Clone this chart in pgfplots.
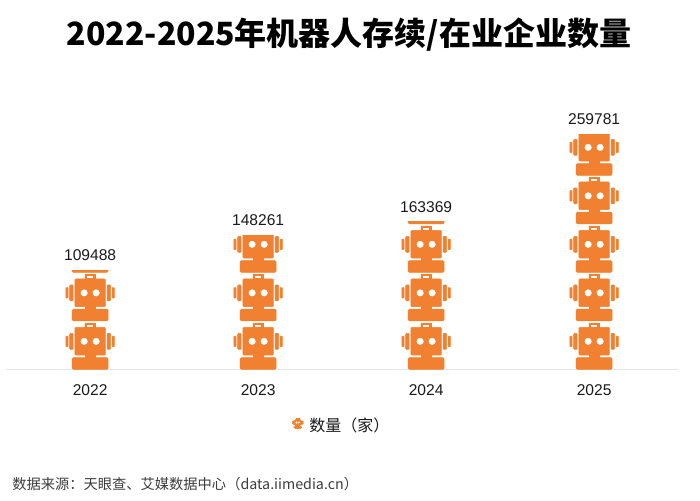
\documentclass[border=0pt]{standalone}
\usepackage{fontspec}
\usepackage{pgfplots}
\usepackage{pgfplotstable}
\pgfplotsset{compat=1.18}
\setmainfont{Liberation Sans}
\newfontfamily\cjk{Noto Sans CJK SC}
\definecolor{robot}{HTML}{F18030}
\definecolor{txt}{HTML}{1A1A1A}

% 1 reference pixel = 0.75pt
\newdimen\barh
\newcommand{\robot}{%
  \fill[robot,rounded corners=1pt] (-18,0) rectangle (18,11.8);
  \fill[robot] (-5,11) rectangle (5,15);
  \fill[robot,even odd rule,rounded corners=0.8pt] (-15.3,14.3) rectangle (15.3,42);
  \fill[white] (-6,28.1) circle[radius=3.2] (6,28.1) circle[radius=3.2];
  \fill[robot,even odd rule] (-5.3,41.5) rectangle (5.3,46.6) (-3.4,42.6) rectangle (3.2,45.2);
  \fill[robot,rounded corners=0.6pt] (17,20.1) rectangle (20.4,36.1);
  \fill[robot,rounded corners=0.6pt] (-17,20.1) rectangle (-20.4,36.1);
  \fill[robot,rounded corners=0.5pt] (22,22.8) rectangle (24.3,33.4);
  \fill[robot,rounded corners=0.5pt] (-22,22.8) rectangle (-24.3,33.4);
}
% the mark stands at the top of the bar, and reaches down to y=0
\pgfdeclareplotmark{robots}{%
  \barh=\dimexpr 1sp*\pgfplotspointmeta*4448/100\relax
  \begin{pgfscope}
    \pgfpathrectangle{\pgfpoint{-25pt}{-\barh}}{\pgfpoint{50pt}{\barh}}%
    \pgfusepath{clip}%
    \pgftransformyshift{-\barh}%
    \begin{scope}[x=0.75pt,y=0.75pt]
      \robot
      \pgftransformyshift{36.375pt}\robot
      \pgftransformyshift{36.375pt}\robot
      \pgftransformyshift{36.375pt}\robot
      \pgftransformyshift{36.375pt}\robot
      \pgftransformyshift{36.375pt}\robot
    \end{scope}
  \end{pgfscope}
}

\pgfplotstableread{
x v
0 109488
1 148261
2 163369
3 259781
}\robotdata

\begin{document}
\begin{tikzpicture}
\useasboundingbox (0,0) rectangle (525pt,375pt);
\node[font=\cjk\bfseries\fontsize{24pt}{28pt}\selectfont,text=black] at (261.8pt,348.9pt) {2022-2025年机器人存续/在业企业数量};
\begin{axis}[
    at={(4.6pt,97.9pt)},
    anchor=south west,
    scale only axis,
    width=504pt,
    height=190.05pt,
    xmin=-0.5, xmax=3.5,
    ymin=0, ymax=280000,
    clip=false,
    axis y line=none,
    axis x line*=bottom,
    axis line style={draw=black!10,line width=0.75pt},
    xtick=data,
    xticklabels={2022,2023,2024,2025},
    major tick length=0pt,
    xticklabel style={font=\fontsize{11.7pt}{14pt}\selectfont,text=txt,yshift=-7.5pt},
    legend style={at={(0.5,-0.22)},anchor=center,draw=none,fill=none,
      font=\cjk\fontsize{12pt}{14pt}\selectfont,text=txt},
    legend image code/.code={
      \begin{scope}[shift={(1.6em,-0.25em)},x=0.16pt,y=0.16pt]\robot\end{scope}
    },
]
\addplot[
    scatter,
    scatter/@pre marker code/.code={\scope},
    scatter/@post marker code/.code={\endscope},
    only marks,
    mark=robots,
    point meta=explicit symbolic,
    nodes near coords,
    nodes near coords style={anchor=center,yshift=11.2pt,text=txt,
      font=\fontsize{11.7pt}{14pt}\selectfont},
] table[x=x,y=v,meta=v] {\robotdata};
\addlegendentry{\hspace{2.5pt}数量（家）}
\end{axis}
\node[anchor=west,inner sep=0pt,font=\cjk\fontsize{10.7pt}{12pt}\selectfont,text=txt!85] at (9pt,12pt) {数据来源：天眼查、艾媒数据中心（data.iimedia.cn）};
\end{tikzpicture}
\end{document}
